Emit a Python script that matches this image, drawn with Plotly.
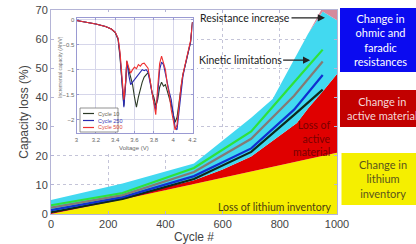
import plotly.graph_objects as go

# ---------------- main chart data ----------------
fill_cycles = [0, 250, 500, 600, 700, 775, 860, 900, 950, 1000]
lithium_top = [0.0, 5.0, 10.3, 12.4, 14.5, 16.1, 17.9, 18.8, 19.9, 21.0]
active_top = [0.4, 5.6, 11.6, 15.3, 19.7, 25.1, 31.2, 36.4, 42.0, 48.0]
kinetic_top = [4.8, 10.5, 17.3, 25.0, 33.0, 39.5, 55.0, 62.0, 69.5, 66.5]
resistance_top = [4.8, 10.5, 17.3, 25.0, 33.0, 39.5, 55.0, 62.0, 71.0, 80.0]

line_cycles = [0, 250, 500, 700, 850, 950]
line_black = [0.6, 5.2, 12.0, 21.3, 34.0, 42.7]
line_blue = [1.3, 5.8, 13.0, 22.5, 35.8, 47.7]
line_grey = [2.2, 6.5, 14.4, 25.8, 40.6, 52.3]
line_green = [3.0, 7.2, 15.8, 28.3, 45.2, 56.4]

x_ticks = [0, 200, 400, 600, 800, 1000]
y_ticks = [0, 10, 20, 30, 40, 50, 60, 70]

# ---------------- inset data ----------------
volt = [3.00, 3.10, 3.20, 3.30, 3.36, 3.40, 3.43, 3.45, 3.47, 3.49, 3.51, 3.52,
        3.54, 3.56, 3.58, 3.60, 3.62, 3.64, 3.66, 3.68, 3.70, 3.72, 3.74, 3.76,
        3.78, 3.80, 3.82, 3.84, 3.86, 3.88, 3.90, 3.92, 3.94, 3.96, 3.98, 4.00,
        4.02, 4.04, 4.06, 4.08, 4.10, 4.12, 4.14, 4.16, 4.18, 4.20]
ic_cycle10 = [-0.02, -0.05, -0.09, -0.14, -0.19, -0.26, -0.40, -0.75, -1.35, -1.72, -1.20, -0.85,
              -1.00, -1.13, -1.30, -1.55, -1.75, -1.55, -1.38, -1.25, -1.15, -1.10, -1.06, -1.20,
              -1.45, -1.55, -1.72, -1.60, -1.35, -1.25, -1.33, -1.30, -1.42, -1.55, -1.70, -1.88,
              -2.05, -1.95, -1.65, -1.35, -1.10, -0.95, -0.80, -0.65, -0.45, -0.05]
ic_cycle250 = [-0.02, -0.05, -0.09, -0.14, -0.19, -0.25, -0.38, -0.70, -1.30, -1.75, -1.25, -0.83,
               -1.10, -1.30, -1.25, -1.20, -1.15, -1.10, -1.05, -1.00, -1.02, -1.00, -1.05, -1.25,
               -1.50, -1.65, -1.80, -1.50, -1.00, -0.85, -0.90, -1.10, -1.30, -1.45, -1.60, -1.90,
               -2.15, -2.20, -1.80, -1.40, -1.15, -0.95, -0.80, -0.65, -0.45, -0.05]
ic_cycle500 = [-0.02, -0.05, -0.09, -0.14, -0.19, -0.25, -0.37, -0.65, -1.20, -1.60, -1.20, -0.82,
               -0.95, -1.07, -1.00, -0.95, -0.98, -0.90, -0.93, -0.88, -0.87, -0.92, -0.97, -1.20,
               -1.43, -1.60, -1.90, -1.35, -0.88, -0.73, -0.85, -1.00, -1.30, -1.50, -1.80, -2.00,
               -2.20, -2.10, -1.70, -1.35, -1.10, -0.92, -0.78, -0.62, -0.42, -0.05]
inset_names = ["Cycle 10", "Cycle 250", "Cycle 500"]
inset_x_ticks = [3, 3.2, 3.4, 3.6, 3.8, 4, 4.2]
inset_y_ticks = [0, -0.5, -1, -1.5, -2]

# ---------------- geometry helpers (pixels -> paper) ----------------
W, H = 416, 244
L, R, T, B = 51, 79, 10, 30
PW, PH = W - L - R, H - T - B


def px(p):
    return (p - L) / PW


def py(p):
    return (H - B - p) / PH


ANN_FONT = "Lato"
TICK_FONT = "Liberation Sans"

fig = go.Figure()

# stacked regions
fill_specs = [
    (lithium_top, "#f6ee00", "tozeroy"),
    (active_top, "#e00000", "tonexty"),
    (kinetic_top, "#42d9f0", "tonexty"),
    (resistance_top, "#d6899c", "tonexty"),
]
for vals, col, mode in fill_specs:
    fig.add_trace(go.Scatter(x=fill_cycles, y=vals, mode="lines", fill=mode,
                             fillcolor=col, line=dict(width=0, color=col),
                             hoverinfo="skip", showlegend=False))

for vals, col in [(line_black, "#0c2a1c"), (line_blue, "#1030d0"),
                  (line_grey, "#857a74"), (line_green, "#2ee23a")]:
    fig.add_trace(go.Scatter(x=line_cycles, y=vals, mode="lines",
                             line=dict(color=col, width=2.2), showlegend=False))

# blank cover subplot (white background of the pasted inset)
fig.add_trace(go.Scatter(x=[], y=[], xaxis="x2", yaxis="y2", showlegend=False))

# inset curves
inset_colors = ["#2c3a26", "#2a2ab0", "#ee3030"]
inset_text_colors = ["#6a6450", "#3a3ab8", "#e04a3a"]
for name, vals, col in zip(inset_names, [ic_cycle10, ic_cycle250, ic_cycle500], inset_colors):
    fig.add_trace(go.Scatter(x=volt, y=vals, mode="lines", name=name,
                             line=dict(color=col, width=1.1),
                             xaxis="x3", yaxis="y3", showlegend=False))

axis_line = "#b4b4d6"
grid_col = "#c4c4d8"

fig.update_layout(
    template="none",
    width=W, height=H,
    margin=dict(l=L, r=R, t=T, b=B, autoexpand=False),
    paper_bgcolor="white", plot_bgcolor="white",
    showlegend=False,
    xaxis=dict(range=[0, 1000], tickvals=x_ticks, showgrid=True, gridcolor=grid_col,
               griddash="dot", gridwidth=1, zeroline=False, showline=True,
               linecolor=axis_line, mirror="ticks", ticks="inside", ticklen=3,
               tickcolor=axis_line, automargin=False,
               tickfont=dict(family=TICK_FONT, size=11, color="#444"),
               title=dict(text="Cycle #", font=dict(family=TICK_FONT, size=12, color="#444"),
                          standoff=2)),
    yaxis=dict(range=[0, 70], tickvals=y_ticks, showgrid=True, gridcolor=grid_col,
               griddash="dot", gridwidth=1, zeroline=False, showline=True,
               linecolor=axis_line, mirror="ticks", ticks="inside", ticklen=3,
               tickcolor=axis_line, automargin=False,
               tickfont=dict(family=TICK_FONT, size=11, color="#444"),
               title=dict(text="Capacity loss (%)",
                          font=dict(family=TICK_FONT, size=12, color="#444"),
                          standoff=4)),
    xaxis2=dict(domain=[px(56), px(197)], anchor="y2", range=[0, 1], visible=False,
                automargin=False),
    yaxis2=dict(domain=[py(152), py(12)], anchor="x2", range=[0, 1], visible=False,
                automargin=False),
    xaxis3=dict(domain=[px(76.5), px(192.5)], anchor="y3", range=[3, 4.2],
                tickvals=inset_x_ticks, showgrid=True, gridcolor="#d6d6ea",
                zeroline=False, showline=True, linecolor="#9a9ad2", mirror="ticks",
                ticks="inside", ticklen=2, tickcolor="#9a9ad2", automargin=False,
                tickfont=dict(family=TICK_FONT, size=6, color="#666")),
    yaxis3=dict(domain=[py(133.3), py(18)], anchor="x3", range=[-2.27, 0.03],
                tickvals=inset_y_ticks, showgrid=True, gridcolor="#d6d6ea",
                zeroline=False, showline=True, linecolor="#9a9ad2", mirror="ticks",
                ticks="inside", ticklen=2, tickcolor="#9a9ad2", automargin=False,
                tickfont=dict(family=TICK_FONT, size=6, color="#666")),
)

shapes = []
annotations = []

# inset axis titles
annotations.append(dict(xref="paper", yref="paper", x=px(134), y=py(148),
                        xanchor="center", yanchor="middle",
                        text="Voltage (V)", showarrow=False,
                        font=dict(family=TICK_FONT, size=6, color="#666")))
annotations.append(dict(xref="paper", yref="paper", x=px(60), y=py(67),
                        xanchor="center", yanchor="middle",
                        text="Incremental capacity (Ah/V)", showarrow=False, textangle=-90,
                        font=dict(family=TICK_FONT, size=5, color="#777")))

# inset legend
shapes.append(dict(type="rect", xref="paper", yref="paper", x0=px(80), x1=px(118),
                   y0=py(132), y1=py(108), line=dict(color="#777", width=0.8),
                   fillcolor="white", layer="above"))
for i, (name, col, tcol) in enumerate(zip(inset_names, inset_colors, inset_text_colors)):
    yy = py(113.5 + 7 * i)
    shapes.append(dict(type="line", xref="paper", yref="paper", x0=px(83), x1=px(94),
                       y0=yy, y1=yy, line=dict(color=col, width=1.2), layer="above"))
    annotations.append(dict(xref="paper", yref="paper", x=px(95.5), y=yy, xanchor="left",
                            yanchor="middle", text=name, showarrow=False,
                            font=dict(family=TICK_FONT, size=5.5, color=tcol)))

# arrows/labels in the main plot
annotations.append(dict(x=958, y=67.3, xref="x", yref="y", ax=-80, ay=0,
                        text="Resistance increase", showarrow=True, arrowhead=2,
                        arrowsize=1.1, arrowwidth=1.3, arrowcolor="#222",
                        font=dict(family=ANN_FONT, size=10.5, color="#222")))
annotations.append(dict(x=906, y=52.8, xref="x", yref="y", ax=-70, ay=0,
                        text="Kinetic limitations", showarrow=True, arrowhead=2,
                        arrowsize=1.1, arrowwidth=1.3, arrowcolor="#222",
                        font=dict(family=ANN_FONT, size=10.5, color="#222")))
annotations.append(dict(xref="paper", yref="paper", x=px(333), y=py(138), xanchor="right",
                        yanchor="middle", align="right", text="Loss of<br>active<br>material",
                        showarrow=False,
                        font=dict(family=ANN_FONT, size=10.5, color="#7a0000")))
annotations.append(dict(xref="paper", yref="paper", x=px(333), y=py(206.5), xanchor="right",
                        yanchor="middle", text="Loss of lithium inventory", showarrow=False,
                        font=dict(family=ANN_FONT, size=10.5, color="#4a4010")))

# right-hand legend boxes
boxes = [
    (340, 8, 72, "#0b0bf0", "Change in<br>ohmic and<br>faradic<br>resistances", "white", 381),
    (340, 90, 127, "#c20000", "Change in<br>active material", "#f4d8d8", 382),
    (341.5, 153, 205, "#f5ef00", "Change in<br>lithium<br>inventory", "#5a561c", 383),
]
for x0, y0, y1, col, txt, tcol, cx in boxes:
    shapes.append(dict(type="rect", xref="paper", yref="paper", x0=px(x0), x1=px(W + 5),
                       y0=py(y1), y1=py(y0), fillcolor=col, line=dict(width=0),
                       layer="above"))
    annotations.append(dict(xref="paper", yref="paper", x=px(cx), y=py((y0 + y1) / 2),
                            xanchor="center", yanchor="middle",
                            text=txt, showarrow=False, align="center",
                            font=dict(family=ANN_FONT, size=11, color=tcol)))

fig.update_layout(shapes=shapes, annotations=annotations)
fig.write_html("out.html",
               config={"displayModeBar": False},
               post_script="document.body.style.margin='0px';"
                           "document.body.style.overflow='hidden';")
